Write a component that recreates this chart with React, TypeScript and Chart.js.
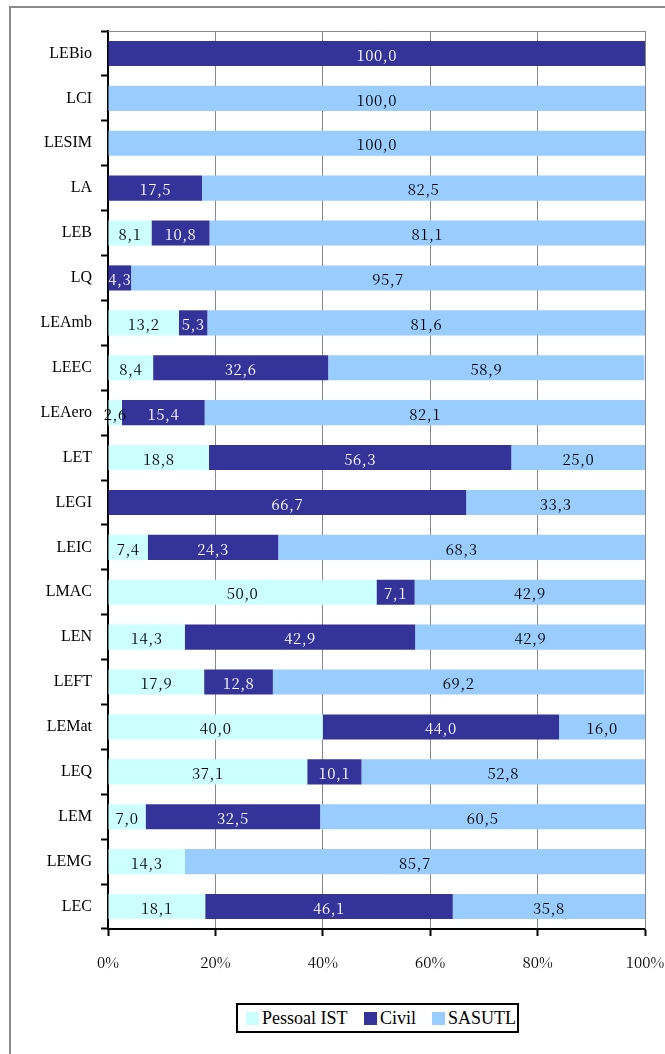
import React, { useEffect, useRef } from "react";
import { Chart, registerables } from "chart.js";

Chart.register(...registerables);

const categories = ["LEBio", "LCI", "LESIM", "LA", "LEB", "LQ", "LEAmb", "LEEC", "LEAero", "LET", "LEGI", "LEIC", "LMAC", "LEN", "LEFT", "LEMat", "LEQ", "LEM", "LEMG", "LEC"];
const pessoalIST = [0, 0, 0, 0, 8.1, 0, 13.2, 8.4, 2.6, 18.8, 0, 7.4, 50.0, 14.3, 17.9, 40.0, 37.1, 7.0, 14.3, 18.1];
const civil = [100, 0, 0, 17.5, 10.8, 4.3, 5.3, 32.6, 15.4, 56.3, 66.7, 24.3, 7.1, 42.9, 12.8, 44.0, 10.1, 32.5, 0, 46.1];
const sasutl = [0, 100, 100, 82.5, 81.1, 95.7, 81.6, 58.9, 82.1, 25.0, 33.3, 68.3, 42.9, 42.9, 69.2, 16.0, 52.8, 60.5, 85.7, 35.8];
const xTicks = [0, 20, 40, 60, 80, 100];
const seriesNames = ["Pessoal IST", "Civil", "SASUTL"];
const seriesColors = ["#CCFFFF", "#333399", "#99CCFF"];

const LABEL_FONT = '"Noto Serif CJK JP"';
const CAT_FONT = '"Liberation Serif"';

const plotFrame = {
  id: "plotFrame",
  beforeDatasetsDraw(chart: any) {
    const { ctx, chartArea } = chart;
    ctx.save();
    ctx.strokeStyle = "#888888";
    ctx.lineWidth = 1;
    ctx.beginPath();
    ctx.moveTo(chartArea.left, chartArea.top + 0.5);
    ctx.lineTo(chartArea.right + 0.5, chartArea.top + 0.5);
    ctx.lineTo(chartArea.right + 0.5, chartArea.bottom);
    ctx.stroke();
    ctx.restore();
  },
};

const valueLabels = {
  id: "valueLabels",
  afterDatasetsDraw(chart: any) {
    const { ctx } = chart;
    ctx.save();
    ctx.font = `15px ${LABEL_FONT}`;
    (ctx as any).letterSpacing = "0.5px";
    ctx.textAlign = "center";
    ctx.textBaseline = "middle";
    chart.data.datasets.forEach((ds: any, di: number) => {
      const meta = chart.getDatasetMeta(di);
      meta.data.forEach((el: any, i: number) => {
        const v = ds.data[i];
        if (!v) return;
        const cx = (el.x + el.base) / 2;
        ctx.fillStyle = di === 1 ? "#FFFFFF" : "#000000";
        ctx.fillText(v.toFixed(1).replace(".", ","), cx, el.y + 1.5);
      });
    });
    (ctx as any).letterSpacing = "0px";
    ctx.restore();
  },
};

export default function App() {
  const ref = useRef<HTMLCanvasElement>(null);
  useEffect(() => {
    if (!ref.current) return;
    const chart = new Chart(ref.current, {
      type: "bar",
      data: {
        labels: categories,
        datasets: [pessoalIST, civil, sasutl].map((d, i) => ({
          label: seriesNames[i],
          data: d,
          backgroundColor: seriesColors[i],
          borderWidth: 0,
          barPercentage: 0.56,
          categoryPercentage: 1,
        })),
      },
      options: {
        indexAxis: "y",
        animation: false,
        responsive: false,
        maintainAspectRatio: false,
        layout: { padding: { left: 0, top: 31, right: 20, bottom: 0 } },
        plugins: { legend: { display: false }, tooltip: { enabled: false } },
        scales: {
          x: {
            stacked: true,
            min: 0,
            max: 100,
            afterBuildTicks(scale: any) {
              scale.ticks = xTicks.map((v) => ({ value: v }));
            },
            afterFit(scale: any) {
              scale.height = 71;
              scale.paddingLeft = 0;
              scale.paddingRight = 0;
            },
            grid: { color: "#888888", lineWidth: 1, tickColor: "#000000", tickLength: 7, tickWidth: 2 },
            border: { color: "#000000", width: 2 },
            ticks: {
              padding: 17,
              color: "#000000",
              font: { family: LABEL_FONT, size: 15 },
              callback: (v: any) => v + "%",
              maxRotation: 0,
            },
          },
          y: {
            stacked: true,
            afterFit(scale: any) {
              scale.width = 108;
              scale.paddingTop = 0;
              scale.paddingBottom = 0;
            },
            grid: { drawOnChartArea: false, tickColor: "#000000", tickLength: 7, tickWidth: 2, offset: true },
            border: { color: "#000000", width: 2 },
            ticks: {
              padding: 9,
              color: "#000000",
              font: { family: CAT_FONT, size: 16 },
              autoSkip: false,
            },
          },
        },
      },
      plugins: [plotFrame, valueLabels],
    } as any);
    return () => chart.destroy();
  }, []);

  const legendItem = (i: number, left: number) => (
    <div key={i} style={{ position: "absolute", left, top: 0, height: 26, display: "flex", alignItems: "center" }}>
      <div style={{ width: 13, height: 13, background: seriesColors[i], marginRight: 3 }} />
      <span style={{ fontFamily: CAT_FONT, fontSize: 18, color: "#000", lineHeight: "26px" }}>{seriesNames[i]}</span>
    </div>
  );

  return (
    <div style={{ position: "absolute", left: 0, top: 0, width: 665, height: 1054, overflow: "hidden", background: "#fff" }}>
      <div style={{ position: "absolute", left: 9, top: 6, width: 700, height: 1100, border: "2px solid #8a8a8a", boxSizing: "border-box" }} />
      <canvas ref={ref} width={665} height={1000} style={{ position: "absolute", left: 0, top: 0, width: 665, height: 1000 }} />
      <div style={{ position: "absolute", left: 236, top: 1003, width: 283, height: 30, border: "2px solid #000", boxSizing: "border-box", background: "#fff" }}>
        {legendItem(0, 8)}
        {legendItem(1, 126)}
        {legendItem(2, 194)}
      </div>
    </div>
  );
}
